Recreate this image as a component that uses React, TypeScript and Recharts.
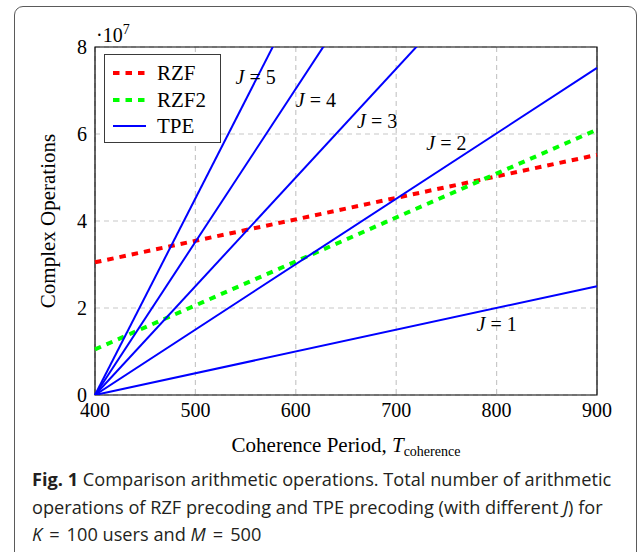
import React from "react";
import {
  LineChart,
  Line,
  XAxis,
  YAxis,
  CartesianGrid,
  Legend,
  ReferenceArea,
  ReferenceDot,
} from "recharts";

// coherence period T (x), complex operations (y)
const periods = [400, 900];
const rzf = [3.05e7, 5.52e7];
const rzf2 = [1.05e7, 6.1e7];
const tpeJ1 = [0, 2.5e7];
const tpeJ2 = [0, 7.52e7];
const tpeJ3 = [0, 1.25e8];
const tpeJ4 = [0, 1.76e8];
const tpeJ5 = [0, 2.26e8];

const xTicks = [400, 500, 600, 700, 800, 900];
const yTicks = [0, 2e7, 4e7, 6e7, 8e7];

// "J = n" annotations, anchored in data coordinates
const jLabels = [
  { j: 5, t: 560, ops: 7.31e7 },
  { j: 4, t: 620, ops: 6.78e7 },
  { j: 3, t: 681, ops: 6.3e7 },
  { j: 2, t: 750, ops: 5.79e7 },
  { j: 1, t: 800, ops: 1.63e7 },
];

const data = periods.map((t, i) => ({
  t,
  rzf: rzf[i],
  rzf2: rzf2[i],
  j1: tpeJ1[i],
  j2: tpeJ2[i],
  j3: tpeJ3[i],
  j4: tpeJ4[i],
  j5: tpeJ5[i],
}));

const SERIF = "'Liberation Serif', 'DejaVu Serif', serif";
const DASH = "6.5 6";

function LegendBox() {
  const rows = [
    { name: "RZF", color: "#ff0000", dash: DASH, width: 4 },
    { name: "RZF2", color: "#00ff00", dash: DASH, width: 4 },
    { name: "TPE", color: "#0000ff", dash: undefined, width: 2 },
  ];
  return (
    <div
      style={{
        width: 117,
        height: 89,
        boxSizing: "border-box",
        border: "1.3px solid #3a3a3a",
        background: "#fff",
        paddingTop: 5,
        fontFamily: SERIF,
        fontSize: 21,
        color: "#000",
      }}
    >
      {rows.map((r) => (
        <div key={r.name} style={{ display: "flex", alignItems: "center", height: 26.5 }}>
          <svg width={52} height={10} style={{ flex: "none" }}>
            <line x1={8} x2={41} y1={5} y2={5} stroke={r.color} strokeWidth={r.width} strokeDasharray={r.dash} />
          </svg>
          <span style={{ lineHeight: "26px" }}>{r.name}</span>
        </div>
      ))}
    </div>
  );
}

function YTitle(props: any) {
  const vb = props.viewBox || { x: 0, y: 47, width: 95, height: 348 };
  const cy = vb.y + vb.height / 2;
  const bx = 55;
  return (
    <g fontFamily={SERIF} fill="#000">
      <text x={bx} y={cy} fontSize={21} textAnchor="middle" transform={`rotate(-90 ${bx} ${cy})`}>
        Complex Operations
      </text>
      <text x={vb.x + vb.width + 1} y={vb.y - 5.5} fontSize={20}>
        ·10
        <tspan fontSize={14} dy={-8}>
          7
        </tspan>
      </text>
    </g>
  );
}

function XTitle(props: any) {
  const vb = props.viewBox || { x: 95, y: 395, width: 502, height: 65 };
  const cx = vb.x + vb.width / 2;
  return (
    <text x={cx} y={vb.y + 57} fontFamily={SERIF} fontSize={21} textAnchor="middle" fill="#000">
      Coherence Period,{" "}
      <tspan fontStyle="italic">T</tspan>
      <tspan fontSize={14} dy={4}>
        coherence
      </tspan>
    </text>
  );
}

const eq = <span style={{ display: "inline-block", padding: "0 7px" }}>=</span>;

export default function App() {
  return (
    <div style={{ position: "absolute", left: 0, top: 0, width: 637, height: 552, overflow: "hidden", background: "#fff" }}>
      <div
        style={{
          position: "absolute",
          left: 14,
          top: 6,
          width: 623,
          height: 620,
          boxSizing: "border-box",
          border: "1.3px solid #5a5a5a",
          borderRadius: 9,
        }}
      />
      <div style={{ position: "absolute", left: 0, top: 0 }}>
        <LineChart width={637} height={460} data={data} margin={{ top: 47, right: 40, left: 0, bottom: 0 }}>
          <CartesianGrid stroke="#c8c8c8" strokeDasharray="5 4" strokeWidth={1.2} />
          <XAxis
            dataKey="t"
            type="number"
            domain={[400, 900]}
            ticks={xTicks}
            height={65}
            axisLine={false}
            tickLine={false}
            tickSize={6}
            tickMargin={2}
            tick={{ fill: "#000", fontSize: 20, fontFamily: SERIF }}
            label={{ content: XTitle }}
          />
          <YAxis
            type="number"
            domain={[0, 8e7]}
            ticks={yTicks}
            allowDataOverflow
            width={95}
            axisLine={false}
            tickLine={false}
            tickSize={6}
            tickMargin={2}
            tickFormatter={(v: number) => String(v / 1e7)}
            tick={{ fill: "#000", fontSize: 20, fontFamily: SERIF }}
            label={{ content: YTitle }}
          />
          <Line dataKey="rzf" stroke="#ff0000" strokeWidth={4} strokeDasharray={DASH} dot={false} isAnimationActive={false} />
          <Line dataKey="rzf2" stroke="#00ff00" strokeWidth={4} strokeDasharray={DASH} dot={false} isAnimationActive={false} />
          {["j1", "j2", "j3", "j4", "j5"].map((k) => (
            <Line key={k} dataKey={k} stroke="#0000ff" strokeWidth={2} dot={false} isAnimationActive={false} />
          ))}
          <ReferenceArea x1={400} x2={900} y1={0} y2={8e7} fill="none" stroke="#000" strokeWidth={1.2} fillOpacity={0} />
          {jLabels.map((l) => (
            <ReferenceDot
              key={l.j}
              x={l.t}
              y={l.ops}
              r={0}
              shape={(p: any) => (
                <text
                  x={p.cx}
                  y={p.cy}
                  dy="0.35em"
                  textAnchor="middle"
                  fontFamily={SERIF}
                  fontSize={20}
                  fill="#000"
                >
                  <tspan fontStyle="italic">J</tspan> = {l.j}
                </text>
              )}
            />
          ))}
          <Legend
            layout="vertical"
            align="center"
            verticalAlign="middle"
            wrapperStyle={{ left: 104, top: 54, width: 117, height: 89 }}
            content={() => <LegendBox />}
          />
        </LineChart>
      </div>
      <div
        style={{
          position: "absolute",
          left: 32,
          top: 466,
          fontFamily: "'Open Sans', sans-serif",
          fontSize: 18.2,
          lineHeight: "27.5px",
          color: "#231f20",
          whiteSpace: "nowrap",
        }}
      >
        <b>Fig. 1</b> Comparison arithmetic operations. Total number of arithmetic
        <br />
        operations of RZF precoding and TPE precoding (with different <i>J</i>) for
        <br />
        <i>K</i>
        {eq}100 users and <i>M</i>
        {eq}500
      </div>
    </div>
  );
}
